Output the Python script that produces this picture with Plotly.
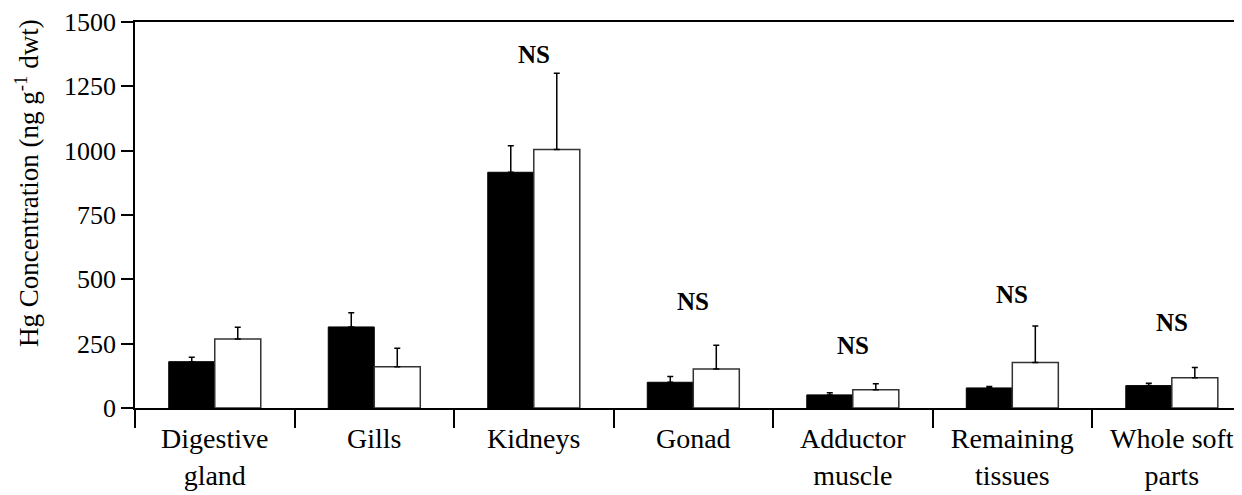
import plotly.graph_objects as go

categories = ["Digestive<br>gland", "Gills", "Kidneys", "Gonad", "Adductor<br>muscle",
              "Remaining<br>tissues", "Whole soft<br>parts"]
black_vals = [180, 315, 916, 100, 51, 78, 87]
black_err = [17, 55, 103, 22, 8, 6, 9]
white_vals = [268, 160, 1005, 152, 71, 177, 118]
white_err = [46, 72, 296, 92, 23, 142, 39]
ns_flags = [False, False, True, True, True, True, True]
ns_y = [0, 0, 1372, 412, 241, 440, 334]
y_ticks = [0, 250, 500, 750, 1000, 1250, 1500]

x = list(range(len(categories)))
FONT = "Liberation Serif"

fig = go.Figure()
fig.add_trace(go.Bar(
    x=x, y=black_vals, name="black",
    marker=dict(color="black", line=dict(color="black", width=1)),
    error_y=dict(type="data", array=black_err, arrayminus=[0] * len(x), symmetric=False,
                 color="black", thickness=1.5, width=3),
))
fig.add_trace(go.Bar(
    x=x, y=white_vals, name="white",
    marker=dict(color="white", line=dict(color="#333333", width=1.5)),
    error_y=dict(type="data", array=white_err, arrayminus=[0] * len(x), symmetric=False,
                 color="black", thickness=1.5, width=3),
))

for i, flag in enumerate(ns_flags):
    if flag:
        fig.add_annotation(x=i, y=ns_y[i], text="<b>NS</b>", showarrow=False,
                           font=dict(family=FONT, size=25, color="black"))

# y-axis title (placed as rotated text, slightly above the plot centre as in the reference)
fig.add_annotation(xref="paper", yref="paper", x=-0.0976, y=0.583,
                   text="Hg Concentration (ng g<sup>-1</sup> dwt)", textangle=-90,
                   showarrow=False, xanchor="center", yanchor="middle",
                   font=dict(family=FONT, size=27, color="black"))

# page body has an 8px margin: compensate so the plot sits where the reference has it
fig.update_layout(
    width=1234, height=487,
    margin=dict(l=127, r=0, t=14, b=87),
    paper_bgcolor="white", plot_bgcolor="white",
    barmode="group", bargap=0.423, bargroupgap=0,
    showlegend=False,
    font=dict(family=FONT, size=26, color="black"),
)
fig.update_xaxes(
    range=[-0.5, 6.44],
    tickmode="array", tickvals=x, ticktext=categories,
    ticks="outside", ticklen=5, tickcolor="rgba(0,0,0,0)",
    showline=True, linecolor="black", linewidth=1.5, mirror=True,
    showgrid=False, zeroline=False,
    tickfont=dict(family=FONT, size=28, color="black"),
    minor=dict(tickmode="linear", tick0=-0.5, dtick=1, ticks="outside", ticklen=18,
               tickcolor="black", tickwidth=1.5, showgrid=False),
)
fig.update_yaxes(
    range=[0, 1500], tickmode="array", tickvals=y_ticks,
    ticks="outside", ticklen=12, tickwidth=1.5, tickcolor="black",
    showline=True, linecolor="black", linewidth=1.5,
    showgrid=False, zeroline=False,
    tickfont=dict(family=FONT, size=26, color="black"),
)

fig.write_html("out.html")
